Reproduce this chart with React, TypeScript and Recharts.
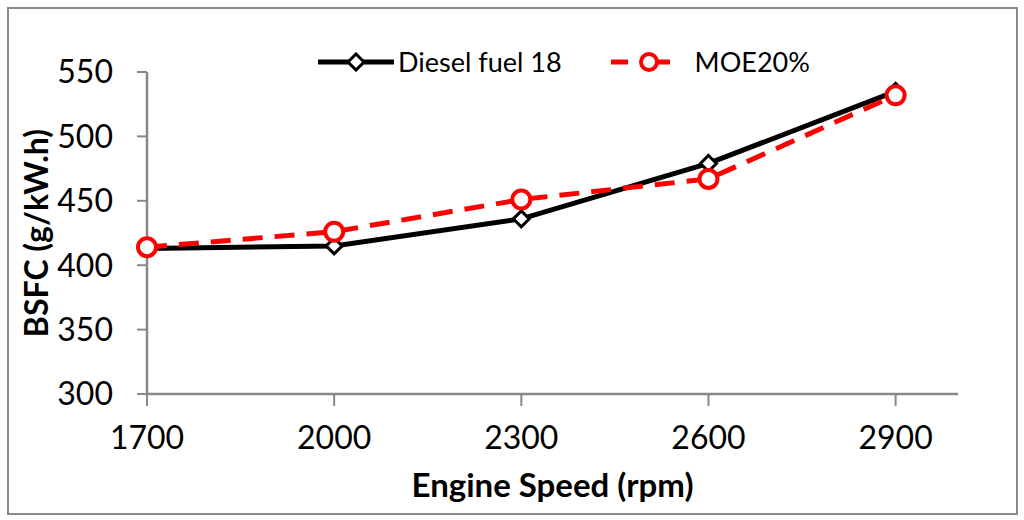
import React from 'react';
import { LineChart, Line, XAxis, YAxis, Legend } from 'recharts';

const speeds = [1700, 2000, 2300, 2600, 2900];
const dieselBsfc = [413, 415, 436, 479, 535];
const moeBsfc = [414, 426, 451, 467, 532];
const xTicks = [1700, 2000, 2300, 2600, 2900];
const yTicks = [300, 350, 400, 450, 500, 550];

const chartData = speeds.map((s, i) => ({
  speed: s,
  diesel: dieselBsfc[i],
  moe: moeBsfc[i],
}));

const FONT = 'Lato, "Open Sans", sans-serif';

function DiamondDot(props: any) {
  const { cx, cy } = props;
  if (cx == null || cy == null) return null;
  const r = 8;
  return (
    <path
      d={`M${cx},${cy - r} L${cx + r},${cy} L${cx},${cy + r} L${cx - r},${cy} Z`}
      fill="#fff"
      stroke="#000"
      strokeWidth={3}
    />
  );
}

function CircleDot(props: any) {
  const { cx, cy } = props;
  if (cx == null || cy == null) return null;
  return <circle cx={cx} cy={cy} r={9} fill="#fff" stroke="#ff0000" strokeWidth={4} />;
}

function LegendBox() {
  return (
    <div style={{ display: 'flex', alignItems: 'center', fontFamily: FONT, fontSize: 27, color: '#000', whiteSpace: 'nowrap' }}>
      <svg width={78} height={20}>
        <line x1={1} y1={10} x2={77} y2={10} stroke="#000" strokeWidth={5} />
        <path d="M39,2 L47,10 L39,18 L31,10 Z" fill="#fff" stroke="#000" strokeWidth={3} />
      </svg>
      <span style={{ marginLeft: 3, marginRight: 48 }}>Diesel fuel 18</span>
      <svg width={78} height={22}>
        <line x1={1} y1={11} x2={77} y2={11} stroke="#ff0000" strokeWidth={5} strokeDasharray="17 25" />
        <circle cx={39} cy={11} r={8} fill="#fff" stroke="#ff0000" strokeWidth={4} />
      </svg>
      <span style={{ marginLeft: 7 }}>MOE20%</span>
    </div>
  );
}

export default function App() {
  return (
    <div style={{ position: 'absolute', left: 0, top: 0, width: 1024, height: 520, background: '#fff' }}>
      <div
        style={{
          position: 'absolute',
          left: 7,
          top: 7,
          width: 1007,
          height: 504,
          border: '2px solid #8a8a8a',
        }}
      />
      <LineChart
        width={1024}
        height={520}
        data={chartData}
        margin={{ top: 72, right: 66, bottom: 66, left: 57 }}
      >
        <XAxis
          dataKey="speed"
          type="number"
          domain={[1700, 3000]}
          ticks={xTicks}
          tick={{ fill: '#000', fontSize: 32, fontFamily: FONT }}
          tickLine={{ stroke: '#888', strokeWidth: 2 }}
          axisLine={{ stroke: '#888', strokeWidth: 2.5 }}
          tickSize={12}
          tickMargin={20}
          height={60}
          label={{
            value: 'Engine Speed (rpm)',
            position: 'bottom',
            offset: 20,
            style: { fill: '#000', fontSize: 33, fontWeight: 700, fontFamily: FONT },
          }}
        />
        <YAxis
          type="number"
          domain={[300, 550]}
          ticks={yTicks}
          tick={{ fill: '#000', fontSize: 32, fontFamily: FONT }}
          tickLine={{ stroke: '#888', strokeWidth: 2 }}
          axisLine={{ stroke: '#888', strokeWidth: 2.5 }}
          tickSize={10}
          tickMargin={24}
          width={90}
          label={{
            value: 'BSFC (g/kW.h)',
            angle: -90,
            position: 'left',
            offset: 20,
            textAnchor: 'middle',
            style: { fill: '#000', fontSize: 32, fontWeight: 700, fontFamily: FONT, textAnchor: 'middle' },
          }}
        />
        <Legend
          content={<LegendBox />}
          verticalAlign="middle"
          align="center"
          layout="horizontal"
          wrapperStyle={{ position: 'absolute', top: 45, left: 317, width: 'auto' }}
        />
        <Line
          dataKey="diesel"
          name="Diesel fuel 18"
          stroke="#000"
          strokeWidth={5}
          dot={<DiamondDot />}
          activeDot={false}
          isAnimationActive={false}
        />
        <Line
          dataKey="moe"
          name="MOE20%"
          stroke="#ff0000"
          strokeWidth={5}
          strokeDasharray="20 12"
          dot={<CircleDot />}
          activeDot={false}
          isAnimationActive={false}
        />
      </LineChart>
    </div>
  );
}
